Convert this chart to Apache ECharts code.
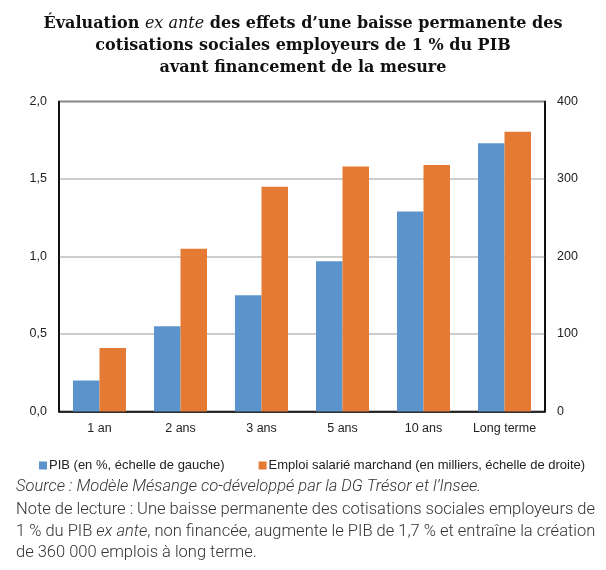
<!DOCTYPE html>
<html><head><meta charset="utf-8">
<script src="https://cdn.jsdelivr.net/npm/echarts@6/dist/echarts.min.js"></script>
<style>html,body{margin:0;padding:0;background:#fff}#c{width:606px;height:570px}</style>
</head><body><div id="c"></div>
<script>
const categories = ['1 an','2 ans','3 ans','5 ans','10 ans','Long terme'];
const pib = [0.2, 0.55, 0.75, 0.97, 1.29, 1.73];
const emploi = [82, 210, 290, 316, 318, 361];
const leftTicks = [0, 0.5, 1, 1.5, 2];
const rightTicks = [0, 100, 200, 300, 400];

const chart = echarts.init(document.getElementById('c'));
const lbl = {color:'#222', fontFamily:'Liberation Sans', fontSize:12.5};
const noteFont = '300 16.5px Roboto';
const noteItal = 'italic 300 16.5px Roboto';
chart.setOption({
  animation:false,
  title:{
    left:'center', top:8,
    text:'{b|Évaluation }{i|ex ante}{b| des effets d’une baisse permanente des}\n{b|cotisations sociales employeurs de 1 % du PIB}\n{b|avant financement de la mesure}',
    textStyle:{
      lineHeight:22,
      rich:{
        b:{fontFamily:'DejaVu Serif', fontWeight:'bold', fontSize:16, color:'#111', lineHeight:22},
        i:{fontFamily:'DejaVu Serif', fontStyle:'italic', fontWeight:'normal', fontSize:16, color:'#111', lineHeight:22}
      }
    }
  },
  legend:{
    top:454, left:34, itemGap:34, itemWidth:8, itemHeight:8, icon:'rect',
    textStyle:{color:'#222', fontFamily:'Liberation Sans', fontSize:13, padding:[0,0,0,-3]},
    data:['PIB (en %, échelle de gauche)','Emploi salarié marchand (en milliers, échelle de droite)']
  },
  grid:{left:59, right:61, top:101.5, bottom:158.5, show:true, borderColor:'#000', borderWidth:1.5, containLabel:false},
  xAxis:{type:'category', data:categories,
    axisLine:{lineStyle:{color:'#000', width:1.5}}, axisTick:{show:false},
    axisLabel:Object.assign({margin:11, interval:0}, lbl)},
  yAxis:[
    {type:'value', min:0, max:2, interval:0.5,
     axisLine:{show:true, lineStyle:{color:'#000', width:1.5}}, axisTick:{show:false},
     splitLine:{lineStyle:{color:'#bdbdbd', width:1.5}},
     axisLabel:Object.assign({margin:12, formatter:v=>v.toFixed(1).replace('.',',')}, lbl)},
    {type:'value', min:0, max:400, interval:100, position:'right',
     axisLine:{show:true, lineStyle:{color:'#000', width:1.5}}, axisTick:{show:false},
     splitLine:{show:false},
     axisLabel:Object.assign({margin:12}, lbl)}
  ],
  series:[
    {name:'PIB (en %, échelle de gauche)', type:'bar', data:pib, yAxisIndex:0,
     barWidth:26.5, barGap:'0%', itemStyle:{color:'#5b94cd'}},
    {name:'Emploi salarié marchand (en milliers, échelle de droite)', type:'bar', data:emploi, yAxisIndex:1,
     barWidth:26.5, barGap:'0%', itemStyle:{color:'#e57a35'}}
  ],
  graphic:[
    {type:'text', x:16, y:487, style:{text:'Source : Modèle Mésange co-développé par la DG Trésor et l’Insee.',
      font:noteItal, fill:'#333', verticalAlign:'middle'}},
    {type:'text', x:16, y:510, style:{text:'Note de lecture : Une baisse permanente des cotisations sociales employeurs de',
      font:noteFont, fill:'#333', verticalAlign:'middle'}},
    {type:'text', x:16, y:532, style:{text:'{n|1 % du PIB }{i|ex ante}{n|, non financée, augmente le PIB de 1,7 % et entraîne la création}',
      verticalAlign:'middle',
      rich:{n:{font:noteFont, fill:'#333'}, i:{font:noteItal, fill:'#333'}}}},
    {type:'text', x:16, y:553, style:{text:'de 360 000 emplois à long terme.',
      font:noteFont, fill:'#333', verticalAlign:'middle'}}
  ]
});
</script></body></html>
